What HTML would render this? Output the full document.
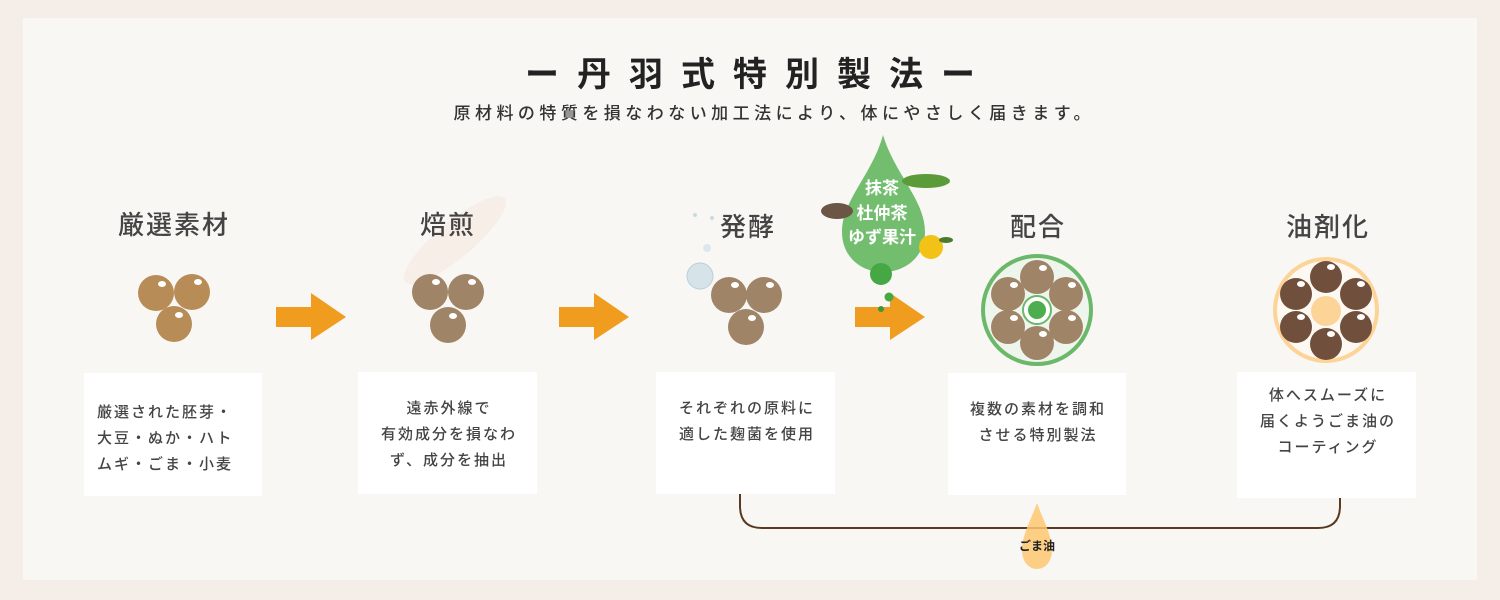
<!DOCTYPE html>
<html><head><meta charset="utf-8"><style>
html,body{margin:0;padding:0;background:#f5ede8;}
svg{display:block;font-family:"Liberation Sans","Noto Sans CJK JP",sans-serif;}
</style></head><body>
<svg width="1500" height="600" viewBox="0 0 1500 600" xmlns="http://www.w3.org/2000/svg">
<defs>
<g id="arrow"><polygon points="0,10 35,10 35,-4 70,20 35,43 35,30 0,30" fill="#f09c1f"/></g>
</defs>
<rect x="0" y="0" width="1500" height="600" fill="#f5ede8"/>
<rect x="23" y="18" width="1454" height="562" fill="#f8f7f4"/>

<!-- title -->
<text x="750" y="86" text-anchor="middle" font-size="34" font-weight="bold" fill="#222" textLength="450" lengthAdjust="spacing">ー丹羽式特別製法ー</text>
<text x="772" y="119" text-anchor="middle" font-size="17" font-weight="500" fill="#333" textLength="637" lengthAdjust="spacing">原材料の特質を損なわない加工法により、体にやさしく届きます。</text>

<!-- roast glow -->
<ellipse cx="455" cy="240" rx="65" ry="18" transform="rotate(-40 455 240)" fill="#f7e2d6" opacity="0.45"/>

<!-- step titles -->
<g font-size="26" font-weight="500" fill="#444" text-anchor="middle" letter-spacing="2">
<text x="174" y="234">厳選素材</text>
<text x="448" y="234">焙煎</text>
<text x="748" y="236">発酵</text>
<text x="1038" y="236">配合</text>
<text x="1328" y="236">油剤化</text>
</g>

<!-- bubbles -->
<circle cx="700" cy="276" r="13" fill="#d6e4ea" stroke="#b9cfd8"/>
<circle cx="707" cy="248" r="4" fill="#dbe7ec"/>
<circle cx="712" cy="218" r="2" fill="#c9dbe2"/>
<circle cx="695" cy="215" r="2" fill="#c9dbe2"/>

<!-- balls step 1 -->
<g fill="#b88c56">
<circle cx="156" cy="293" r="18"/><circle cx="192" cy="292" r="18"/><circle cx="174" cy="324" r="18"/>
</g>
<g fill="#fff"><ellipse cx="162" cy="284" rx="4" ry="3"/><ellipse cx="198" cy="282" rx="4" ry="3"/><ellipse cx="179" cy="315" rx="4" ry="3"/></g>
<!-- step 2 -->
<g fill="#a08468">
<circle cx="430" cy="292" r="18"/><circle cx="466" cy="292" r="18"/><circle cx="448" cy="325" r="18"/>
</g>
<g fill="#fff"><ellipse cx="436" cy="282" rx="4" ry="3"/><ellipse cx="472" cy="282" rx="4" ry="3"/><ellipse cx="453" cy="316" rx="4" ry="3"/></g>
<!-- step 3 -->
<g fill="#a08468">
<circle cx="729" cy="295" r="18"/><circle cx="764" cy="295" r="18"/><circle cx="746" cy="327" r="18"/>
</g>
<g fill="#fff"><ellipse cx="735" cy="285" rx="4" ry="3"/><ellipse cx="770" cy="285" rx="4" ry="3"/><ellipse cx="752" cy="318" rx="4" ry="3"/></g>

<!-- arrows -->
<use href="#arrow" x="276" y="297"/>
<use href="#arrow" x="559" y="297"/>
<use href="#arrow" x="855" y="297"/>

<!-- green drop -->
<path d="M883,135 C895,175 925,200 925,232 C925,256 906,272 883,272 C860,272 842,256 842,232 C842,200 872,175 883,135 Z" fill="#72bd6e"/>
<circle cx="881" cy="274" r="11" fill="#45a845"/>
<circle cx="889" cy="297" r="4.5" fill="#45a845"/>
<circle cx="881" cy="309" r="3" fill="#3a9a3a"/>
<ellipse cx="926" cy="181" rx="24" ry="7" fill="#5c9b3a"/>
<ellipse cx="837" cy="211" rx="16" ry="8" fill="#6b5646"/>
<circle cx="931" cy="247" r="12" fill="#f2c316"/>
<ellipse cx="946" cy="240" rx="7" ry="3" fill="#4c7a2e"/>
<g font-size="17" fill="#fff" text-anchor="middle" font-weight="bold">
<text x="882" y="194">抹茶</text>
<text x="882" y="219">杜仲茶</text>
<text x="882" y="243">ゆず果汁</text>
</g>

<!-- blend circle -->
<circle cx="1037" cy="310" r="54" fill="#eef5ec" stroke="#6bb86a" stroke-width="4"/>
<g fill="#a08468">
<circle cx="1037" cy="277" r="17"/><circle cx="1066" cy="294" r="17"/><circle cx="1066" cy="327" r="17"/>
<circle cx="1037" cy="343" r="17"/><circle cx="1008" cy="327" r="17"/><circle cx="1008" cy="294" r="17"/>
</g>
<g fill="#fff">
<ellipse cx="1043" cy="268" rx="4" ry="3"/><ellipse cx="1072" cy="285" rx="4" ry="3"/><ellipse cx="1072" cy="318" rx="4" ry="3"/>
<ellipse cx="1043" cy="334" rx="4" ry="3"/><ellipse cx="1014" cy="318" rx="4" ry="3"/><ellipse cx="1014" cy="285" rx="4" ry="3"/>
</g>
<circle cx="1037" cy="310" r="14" fill="#fff" stroke="#6bb86a" stroke-width="2"/>
<circle cx="1037" cy="310" r="9" fill="#4cae4c"/>

<!-- oil circle -->
<circle cx="1326" cy="310" r="51" fill="#fdf8f2" stroke="#fdd497" stroke-width="4"/>
<circle cx="1326" cy="311" r="15" fill="#fdd497"/>
<g fill="#70503c">
<circle cx="1326" cy="277" r="16"/><circle cx="1356" cy="294" r="16"/><circle cx="1356" cy="327" r="16"/>
<circle cx="1326" cy="344" r="16"/><circle cx="1296" cy="327" r="16"/><circle cx="1296" cy="294" r="16"/>
</g>
<g fill="#fff">
<ellipse cx="1331" cy="267" rx="4" ry="3"/><ellipse cx="1361" cy="284" rx="4" ry="3"/><ellipse cx="1361" cy="317" rx="4" ry="3"/>
<ellipse cx="1331" cy="334" rx="4" ry="3"/><ellipse cx="1301" cy="317" rx="4" ry="3"/><ellipse cx="1301" cy="284" rx="4" ry="3"/>
</g>

<!-- boxes -->
<g fill="#fff">
<rect x="84" y="373" width="178" height="123"/>
<rect x="358" y="372" width="179" height="122"/>
<rect x="656" y="372" width="179" height="122"/>
<rect x="948" y="373" width="178" height="122"/>
<rect x="1237" y="372" width="179" height="126"/>
</g>
<g font-size="15" font-weight="500" fill="#444" letter-spacing="2">
<text x="97" y="417">厳選された胚芽・</text>
<text x="97" y="443">大豆・ぬか・ハト</text>
<text x="97" y="469">ムギ・ごま・小麦</text>
</g>
<g font-size="15" font-weight="500" fill="#444" letter-spacing="2" text-anchor="middle">
<text x="449" y="413">遠赤外線で</text>
<text x="449" y="439">有効成分を損なわ</text>
<text x="449" y="465">ず、成分を抽出</text>
<text x="747" y="413">それぞれの原料に</text>
<text x="747" y="439">適した麹菌を使用</text>
<text x="1038" y="414">複数の素材を調和</text>
<text x="1038" y="440">させる特別製法</text>
<text x="1328" y="400">体へスムーズに</text>
<text x="1328" y="426">届くようごま油の</text>
<text x="1328" y="452">コーティング</text>
</g>

<!-- bracket -->
<path d="M740,494 L740,506 Q740,528 762,528 L1318,528 Q1340,528 1340,506 L1340,498" fill="none" stroke="#5a3a22" stroke-width="2"/>
<!-- oil drop -->
<path d="M1037,503 C1043,520 1052,535 1052,550 C1052,562 1045,569 1037,569 C1029,569 1022,562 1022,550 C1022,535 1031,520 1037,503 Z" fill="#fec870" opacity="0.85"/>
<text x="1037" y="550" font-size="12" font-weight="bold" fill="#222" text-anchor="middle">ごま油</text>
</svg>
</body></html>
